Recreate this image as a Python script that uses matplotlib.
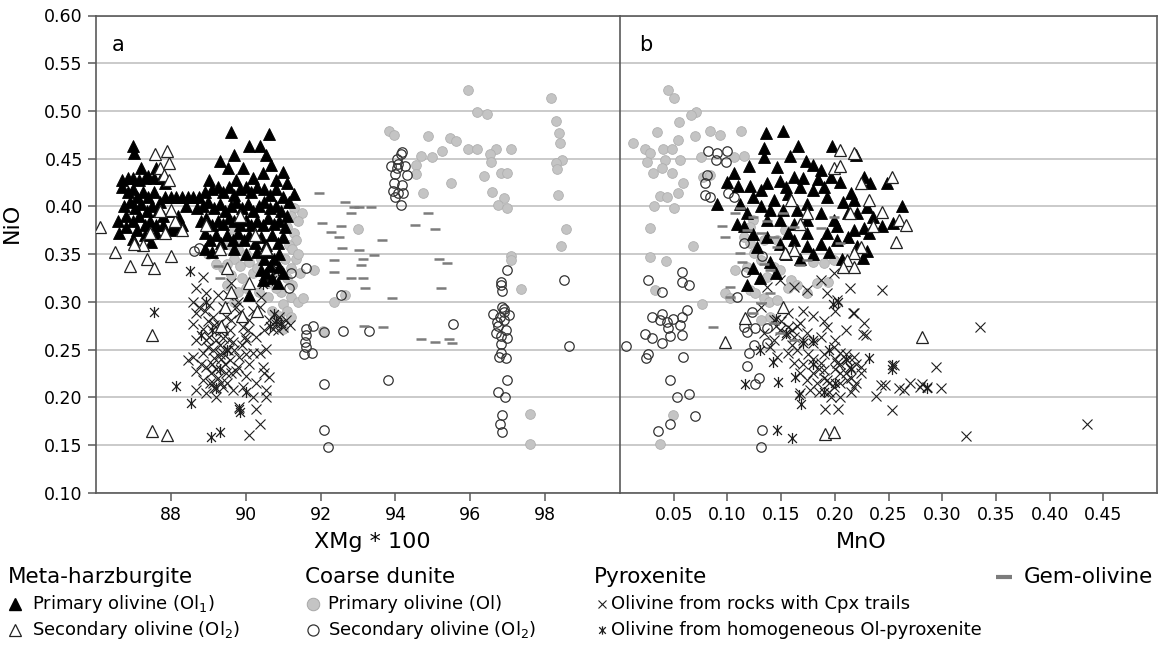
import numpy as np
import matplotlib.pyplot as plt
from matplotlib.path import Path

# ---------------- data : panel a, XMg*100 vs NiO ----------------
a_ol1 = np.array([
    (86.98, .463), (87.02, .456), (86.70, .428), (86.85, .430), (87.00, .430), (87.15, .428), (87.30, .430),
    (87.55, .430), (87.60, .440), (87.75, .430), (87.20, .440), (87.40, .432), (87.85, .425),
    (86.70, .420), (86.85, .415), (87.00, .418), (87.10, .410), (87.25, .415), (87.40, .410), (87.55, .415),
    (87.70, .405), (87.85, .410), (88.00, .410), (88.15, .410), (88.30, .410), (88.45, .410), (88.60, .410),
    (86.75, .400), (86.90, .405), (87.05, .398), (87.20, .402), (87.35, .395), (87.50, .400), (87.65, .395),
    (87.80, .390), (88.00, .395), (88.20, .390), (88.40, .400),
    (86.60, .385), (86.80, .390), (87.00, .385), (87.15, .390), (87.30, .380), (87.45, .385), (87.60, .380),
    (87.80, .380), (88.10, .378), (88.30, .380),
    (86.62, .372), (86.80, .378), (86.98, .366), (87.10, .375), (87.30, .370), (87.47, .363), (87.60, .372),
    (88.00, .375),
    (89.61, .478), (90.63, .476), (90.10, .463), (90.37, .463), (89.70, .454), (90.55, .454), (89.30, .448),
    (90.68, .443), (89.52, .440), (89.92, .440), (90.99, .436), (89.03, .428), (89.74, .428), (90.20, .430),
    (90.45, .435), (90.80, .428), (91.10, .424), (91.30, .413),
    (88.75, .410), (88.90, .415), (89.10, .418), (89.25, .420), (89.40, .415), (89.55, .420), (89.70, .412),
    (89.85, .418), (90.00, .420), (90.15, .415), (90.30, .420), (90.50, .418), (90.65, .412), (90.80, .418),
    (91.00, .410), (91.15, .405),
    (88.70, .398), (88.85, .400), (89.00, .405), (89.15, .398), (89.30, .402), (89.45, .395), (89.60, .400),
    (89.75, .405), (89.90, .398), (90.05, .402), (90.20, .395), (90.35, .400), (90.50, .405), (90.65, .398),
    (90.80, .400), (90.95, .395), (91.10, .390),
    (88.80, .385), (88.95, .388), (89.10, .380), (89.25, .385), (89.40, .382), (89.55, .388), (89.70, .385),
    (89.85, .380), (90.00, .386), (90.15, .380), (90.30, .385), (90.45, .380), (90.60, .388), (90.75, .382),
    (90.90, .385), (91.05, .378),
    (88.90, .372), (89.05, .365), (89.20, .370), (89.35, .362), (89.50, .370), (89.65, .365), (89.80, .372),
    (89.95, .365), (90.10, .370), (90.25, .362), (90.40, .368), (90.55, .360), (90.70, .370), (90.85, .362),
    (91.00, .368),
    (88.90, .355), (89.10, .352), (89.70, .355), (90.00, .350), (90.30, .352), (90.50, .345), (90.60, .352),
    (90.75, .345), (90.90, .350), (90.65, .338), (90.90, .337), (90.46, .323), (90.70, .325), (90.55, .330),
    (90.10, .307), (90.40, .333), (90.85, .320), (91.00, .330)])

a_ol2 = np.array([
    (86.12, .378), (87.58, .455), (87.90, .458), (87.70, .440), (87.82, .433), (87.95, .428), (87.95, .445),
    (86.50, .352), (86.90, .338), (87.35, .345), (87.55, .335), (87.45, .372), (87.25, .360), (88.00, .348),
    (87.50, .265), (87.50, .165), (87.90, .160), (88.30, .375), (87.70, .395), (88.10, .385), (87.85, .372),
    (88.95, .380), (89.50, .335), (89.30, .355), (90.30, .290), (89.60, .310), (89.90, .285), (90.10, .320),
    (89.35, .275), (89.45, .295), (90.55, .355), (90.25, .370), (89.85, .390), (88.00, .396), (87.02, .361)])

a_dun_ol = np.array([
    (91.30, .398), (91.50, .393), (91.20, .390), (91.40, .385), (91.10, .378), (91.30, .372), (91.35, .365),
    (91.15, .360), (91.25, .355), (91.35, .345), (91.05, .345), (91.20, .335), (91.10, .325), (91.25, .318),
    (90.95, .310), (91.20, .305), (91.00, .298), (91.10, .290), (91.20, .284), (91.40, .300), (91.45, .330),
    (91.40, .350), (89.60, .385), (89.70, .375), (89.90, .365), (89.60, .360), (89.50, .365), (89.80, .355),
    (90.00, .350), (89.70, .345), (89.50, .340), (89.85, .338), (90.10, .342), (89.40, .335), (89.60, .328),
    (89.90, .325), (90.20, .330), (90.40, .345), (90.30, .335), (89.50, .318), (89.80, .310), (90.00, .315),
    (90.35, .310), (90.60, .305), (90.60, .320), (90.80, .315), (90.90, .330), (90.70, .290), (90.90, .285),
    (91.00, .272), (89.00, .350), (89.20, .340), (89.70, .300),
    (93.83, .479), (93.97, .475), (94.87, .474), (95.45, .472), (95.63, .469), (95.93, .522), (96.17, .499),
    (96.45, .497), (94.68, .453), (94.99, .452), (95.24, .458), (95.95, .460), (96.19, .460), (96.70, .460),
    (97.10, .460), (96.52, .455), (96.56, .447), (94.55, .443), (94.55, .434), (96.36, .432), (96.82, .435),
    (96.99, .435), (95.48, .424), (94.73, .414), (96.57, .415), (96.89, .409), (96.73, .401), (96.99, .398),
    (97.09, .348), (97.09, .344), (97.36, .313), (98.16, .514), (98.29, .489), (98.37, .477), (98.39, .466),
    (98.45, .449), (98.29, .445), (98.32, .439), (98.34, .412), (98.55, .376), (98.42, .359), (93.00, .376),
    (91.82, .333), (91.53, .304), (92.35, .300), (92.66, .307), (92.06, .269), (97.60, .182), (97.60, .151)])

a_dun_ol2 = np.array([
    (94.18, .457), (94.15, .455), (94.04, .450), (93.88, .442), (94.04, .440), (94.25, .442), (94.31, .433),
    (93.99, .434), (94.08, .444), (93.97, .424), (94.18, .422), (93.94, .416), (94.08, .414), (94.20, .414),
    (94.00, .410), (94.15, .401),
    (91.60, .335), (92.54, .307), (96.99, .333), (96.82, .321), (96.82, .318), (96.86, .311), (98.50, .323),
    (96.86, .295), (96.62, .287), (96.89, .289), (97.04, .286), (96.72, .279), (96.91, .281), (96.75, .275),
    (96.96, .270), (96.70, .267), (96.82, .264), (96.99, .262), (96.82, .256), (96.82, .246), (96.78, .242),
    (96.96, .241), (96.98, .218), (96.75, .205), (96.93, .2005), (96.86, .181), (96.80, .1725), (96.86, .164),
    (96.89, .293), (96.80, .284),
    (91.60, .272), (91.79, .275), (91.60, .265), (91.58, .258), (91.60, .253), (91.55, .245), (91.76, .246),
    (92.08, .268), (92.61, .2697), (93.30, .2693), (93.81, .218), (92.08, .2138), (92.08, .1655), (92.19, .148),
    (95.53, .2766), (98.63, .254), (88.61, .353), (88.74, .356), (91.20, .330), (91.15, .315)])

a_px_cpx = np.array([
    (88.85, .326), (88.67, .314), (88.94, .309), (89.25, .307), (89.52, .307), (88.58, .300), (89.03, .297),
    (89.39, .295), (89.74, .295), (88.67, .288), (89.12, .284), (89.48, .284), (89.83, .288), (90.10, .281),
    (90.37, .295), (88.58, .277), (88.85, .272), (89.16, .276), (89.30, .269), (89.57, .270), (89.92, .274),
    (88.67, .260), (89.03, .263), (89.39, .262), (89.65, .258), (90.01, .260), (90.28, .263), (90.55, .251),
    (88.58, .242), (88.85, .246), (89.12, .249), (89.39, .246), (89.57, .239), (89.83, .242), (90.10, .235),
    (90.37, .246), (88.67, .228), (88.94, .232), (89.21, .230), (89.48, .225), (89.74, .227), (90.01, .222),
    (90.28, .2145), (88.85, .218), (89.12, .2145), (89.39, .211), (89.65, .2075), (89.92, .211), (88.67, .2075),
    (88.94, .204), (89.21, .2005), (90.19, .2005), (90.55, .2075), (90.55, .2005), (89.83, .190), (90.28, .188),
    (90.37, .1725), (90.10, .160), (88.45, .239), (89.07, .225), (89.34, .240), (89.52, .249), (89.79, .232),
    (89.16, .2415), (88.99, .253), (89.25, .277), (89.61, .281), (89.97, .263), (90.19, .246), (90.46, .232),
    (90.63, .2215), (90.50, .225), (90.63, .281), (90.81, .277), (90.99, .274), (91.17, .276), (90.72, .272),
    (90.90, .284), (91.08, .281), (90.86, .270), (89.20, .260), (89.30, .255), (89.40, .270), (89.10, .235),
    (89.25, .220), (89.35, .215), (89.45, .235), (89.55, .260), (89.15, .210), (89.05, .215), (89.50, .215),
    (89.30, .245), (88.95, .260), (88.80, .235), (89.60, .225), (89.70, .250), (89.90, .255), (90.00, .245),
    (90.05, .270), (89.00, .280), (88.75, .295), (88.90, .290), (89.80, .300), (90.20, .290), (90.40, .305),
    (89.60, .320), (90.50, .270)])

a_px_hom = np.array([
    (87.56, .289), (88.14, .212), (88.54, .1935), (89.83, .188), (89.07, .1586), (89.32, .164), (88.50, .332),
    (89.85, .185), (88.80, .265), (89.10, .270), (89.30, .230), (90.45, .319), (90.70, .323), (90.80, .280),
    (90.65, .275), (90.95, .278), (90.75, .287), (89.50, .250), (89.20, .210), (88.95, .300), (90.00, .205),
    (90.85, .333)])

a_gem = np.array([
    (91.97, .414), (92.03, .383), (92.27, .373), (92.54, .379), (92.66, .405), (92.82, .393), (92.88, .399),
    (93.04, .399), (93.35, .399), (92.50, .368), (93.64, .365), (92.58, .356), (93.04, .354), (92.35, .344),
    (93.14, .345), (93.43, .349), (93.09, .339), (92.35, .331), (92.82, .325), (93.14, .325), (93.19, .315),
    (93.90, .304), (94.86, .393), (94.52, .380), (95.05, .376), (95.16, .345), (95.37, .341), (95.21, .315),
    (89.27, .338), (89.32, .325), (93.17, .2745), (93.67, .2732), (94.68, .2606), (95.05, .2574),
    (95.42, .2606), (95.50, .2564)])

# ---------------- data : panel b, MnO vs NiO ----------------
b_ol1 = np.array([
    (.136, .477), (.152, .479), (.134, .461), (.166, .463), (.158, .453), (.173, .448), (.197, .463),
    (.220, .454), (.180, .443), (.187, .438), (.134, .452), (.120, .442), (.106, .435), (.100, .426),
    (.090, .403), (.110, .421), (.227, .431), (.233, .424), (.249, .425), (.263, .400), (.254, .383),
    (.244, .379), (.230, .353), (.226, .346), (.227, .377), (.205, .426), (.196, .431), (.184, .429),
    (.215, .414), (.218, .407), (.221, .393), (.230, .399), (.236, .389), (.232, .372), (.218, .375),
    (.202, .365), (.187, .361), (.174, .358), (.162, .365), (.149, .361), (.137, .368), (.124, .371),
    (.115, .379), (.109, .382), (.118, .393), (.131, .400), (.143, .407), (.156, .413), (.168, .420),
    (.180, .417), (.193, .410), (.187, .393), (.174, .386), (.162, .382), (.149, .386), (.137, .386),
    (.124, .410), (.137, .424), (.149, .427), (.162, .431), (.146, .441), (.121, .421), (.112, .403),
    (.131, .417), (.174, .403), (.199, .386), (.212, .393), (.202, .379), (.165, .396), (.152, .396),
    (.140, .396), (.128, .357), (.140, .342), (.124, .335), (.156, .372), (.174, .372), (.193, .372),
    (.212, .368), (.221, .358), (.155, .350), (.168, .345), (.180, .350), (.195, .352), (.207, .345),
    (.130, .325), (.145, .330), (.118, .318), (.208, .405), (.190, .420), (.170, .430), (.155, .420)])

b_ol2 = np.array([
    (.205, .459), (.218, .456), (.199, .440), (.205, .442), (.2535, .431), (.224, .424), (.232, .407),
    (.244, .394), (.260, .386), (.266, .380), (.257, .363), (.236, .379), (.2146, .3926), (.224, .3577),
    (.218, .351), (.2115, .344), (.218, .337), (.208, .337), (.162, .354), (.154, .351), (.152, .295),
    (.1166, .2826), (.098, .258), (.2815, .2627), (.191, .162), (.199, .164), (.174, .3926), (.168, .382),
    (.159, .4067)])

b_dun_ol = np.array([
    (.045, .522), (.0507, .514), (.0709, .499), (.066, .496), (.0554, .488), (.0342, .478), (.0544, .4695),
    (.070, .474), (.084, .479), (.0933, .475), (.113, .479), (.0118, .466), (.0233, .460), (.028, .456),
    (.0404, .460), (.048, .460), (.056, .449), (.042, .449), (.025, .447), (.031, .435), (.039, .440),
    (.048, .435), (.059, .424), (.0544, .4143), (.0373, .411), (.0435, .4094), (.032, .4003), (.0507, .398),
    (.0756, .4513), (.077, .431), (.084, .433), (.115, .4527), (.106, .452), (.028, .377), (.0684, .3588),
    (.028, .347), (.0426, .343), (.0327, .312), (.0496, .181), (.0369, .1508),
    (.0762, .2976), (.098, .309), (.1026, .3036), (.121, .312), (.126, .3088), (.134, .3036), (.1384, .3001),
    (.146, .3018), (.107, .3333), (.118, .3367), (.1244, .3507), (.131, .3437), (.1213, .3612), (.134, .3647),
    (.143, .3367), (.149, .3332), (.159, .3228), (.165, .3175), (.174, .3088), (.1835, .3193), (.190, .3402),
    (.180, .3419), (.199, .3437), (.194, .321), (.156, .3141), (.140, .2843), (.131, .2808), (.124, .3856),
    (.1213, .3786), (.115, .3682), (.137, .3263), (.146, .3647), (.154, .3752)])

b_dun_ol2 = np.array([
    (.0815, .458), (.090, .4555), (.0995, .458), (.0893, .4485), (.0989, .4468), (.0809, .4328), (.0793, .4248),
    (.0787, .412), (.084, .410), (.101, .4136), (.1058, .410), (.115, .3612), (.132, .348), (.1176, .3315),
    (.0264, .3228), (.0575, .3315), (.0575, .321), (.0638, .3175), (.0389, .3105), (.1089, .3053), (.1229, .2896),
    (.0295, .2843), (.0389, .287), (.0373, .2808), (.0435, .279), (.0498, .2816), (.0575, .2843), (.0622, .2913),
    (.056, .2756), (.045, .2721), (.0233, .2668), (.0295, .2616), (.0389, .2564), (.0575, .2651), (.0467, .2641),
    (.0056, .2539), (.0264, .2452), (.0243, .2407), (.0591, .2424), (.1182, .2686), (.126, .2721), (.1369, .2721),
    (.1151, .2738), (.1244, .2546), (.1198, .246), (.1182, .2326), (.129, .2197), (.126, .2144), (.1369, .2564),
    (.0467, .2179), (.0638, .2039), (.0529, .2005), (.070, .1802), (.0467, .1725), (.0358, .1648), (.1322, .1662),
    (.1316, .148)])

b_px_cpx = np.array([
    (.143, .281), (.149, .2704), (.156, .274), (.162, .2634), (.168, .2774), (.174, .267), (.180, .2564),
    (.187, .2634), (.193, .274), (.199, .253), (.205, .246), (.2115, .239), (.218, .2425), (.224, .232),
    (.187, .2354), (.180, .225), (.174, .218), (.168, .225), (.162, .2354), (.156, .246), (.146, .2425),
    (.140, .253), (.193, .218), (.199, .211), (.205, .225), (.2115, .218), (.218, .211), (.224, .225),
    (.2146, .232), (.202, .2354), (.190, .2284), (.1835, .2145), (.177, .2075), (.196, .2005), (.205, .2005),
    (.168, .204), (.137, .316), (.149, .3228), (.162, .316), (.174, .3123), (.156, .2878), (.131, .295),
    (.134, .267), (.143, .260), (.187, .3228), (.193, .3088), (.202, .3018), (.247, .2127), (.264, .2075),
    (.270, .2145), (.286, .211), (.255, .2337), (.199, .3298), (.2146, .314), (.244, .312), (.218, .2878),
    (.227, .2773), (.2286, .2651), (.3352, .2732), (.435, .1718), (.3225, .1593), (.2536, .1865),
    (.2385, .2011), (.2939, .2312), (.299, .2092), (.281, .214), (.279, .2105), (.2595, .2095), (.243, .2125),
    (.2267, .2662), (.2166, .2885), (.1908, .1882), (.2032, .1882),
    (.190, .220), (.200, .230), (.210, .225), (.205, .215), (.195, .205), (.215, .205), (.200, .240),
    (.185, .230), (.210, .245), (.220, .235), (.220, .215), (.195, .215), (.205, .235), (.185, .205),
    (.215, .220), (.155, .265), (.160, .270), (.150, .280), (.165, .275), (.145, .275), (.170, .260),
    (.160, .255), (.175, .245), (.165, .250), (.180, .240), (.170, .235), (.190, .245), (.200, .260),
    (.210, .270), (.190, .280), (.180, .285), (.200, .290), (.170, .290)])

b_px_hom = np.array([
    (.146, .1655), (.1606, .1568), (.116, .2134), (.1467, .2162), (.1427, .2372), (.167, .2022), (.1686, .1925),
    (.2317, .2414), (.2536, .2337), (.2855, .2092), (.198, .298), (.163, .2212), (.180, .235), (.195, .250),
    (.155, .267), (.145, .282), (.170, .257), (.210, .240), (.203, .300), (.180, .260), (.200, .215),
    (.215, .230), (.190, .205), (.253, .230), (.130, .250)])

b_gem = np.array([
    (.095, .379), (.098, .368), (.112, .398), (.107, .393), (.124, .389), (.137, .385), (.118, .375),
    (.131, .372), (.143, .368), (.112, .3507), (.1135, .342), (.134, .340), (.140, .333), (.1026, .3158),
    (.087, .2738), (.174, .3437), (.168, .339), (.1026, .305), (.124, .2878), (.131, .2983), (.140, .3088),
    (.143, .2773), (.149, .2669), (.162, .2599), (.205, .3612), (.199, .3891), (.187, .377), (.152, .3926),
    (.162, .3786), (.146, .3577)])

yticks = [0.10, 0.15, 0.20, 0.25, 0.30, 0.35, 0.40, 0.45, 0.50, 0.55, 0.60]
a_ticks = [88, 90, 92, 94, 96, 98]
b_ticks = [0.05, 0.10, 0.15, 0.20, 0.25, 0.30, 0.35, 0.40, 0.45]

# ---------------- styles ----------------
# Excel-like asterisk: an x with a vertical bar through it
star = Path([(-1, -1), (1, 1), (-1, 1), (1, -1), (0, -1.25), (0, 1.25)],
            [Path.MOVETO, Path.LINETO, Path.MOVETO, Path.LINETO, Path.MOVETO, Path.LINETO])

axcol = '#5a5a5a'
st_ol1 = dict(ls='none', marker='^', ms=8, mfc='black', mec='black', mew=0.6)
st_ol2 = dict(ls='none', marker='^', ms=8, mfc='white', mec='#222222', mew=0.9)
st_dol = dict(ls='none', marker='o', ms=7, mfc='#c4c4c4', mec='#b0b0b0', mew=0.6)
st_dol2 = dict(ls='none', marker='o', ms=6.8, mfc='none', mec='#333333', mew=0.9)
st_cpx = dict(ls='none', marker='x', ms=7.5, mec='#1e1e1e', mew=0.8)
st_hom = dict(ls='none', marker=star, ms=8, mec='#1e1e1e', mew=0.9)
st_gem = dict(ls='none', marker='_', ms=7, mec='#7c7c7c', mew=1.8)

plt.rcParams['font.family'] = 'DejaVu Sans'

W, H = 1162, 649
fig = plt.figure(figsize=(W / 100, H / 100), dpi=100)
ax_a = fig.add_axes([96 / W, 1 - 492.7 / H, 524 / W, 477.2 / H])
ax_b = fig.add_axes([620 / W, 1 - 492.7 / H, 537 / W, 477.2 / H])

for ax, d in ((ax_a, dict(ol1=a_ol1, ol2=a_ol2, dol=a_dun_ol, dol2=a_dun_ol2, cpx=a_px_cpx, hom=a_px_hom, gem=a_gem)),
              (ax_b, dict(ol1=b_ol1, ol2=b_ol2, dol=b_dun_ol, dol2=b_dun_ol2, cpx=b_px_cpx, hom=b_px_hom, gem=b_gem))):
    ax.plot(d['dol'][:, 0], d['dol'][:, 1], zorder=3, **st_dol)
    ax.plot(d['dol2'][:, 0], d['dol2'][:, 1], zorder=4, **st_dol2)
    ax.plot(d['cpx'][:, 0], d['cpx'][:, 1], zorder=5, **st_cpx)
    ax.plot(d['hom'][:, 0], d['hom'][:, 1], zorder=5, **st_hom)
    ax.plot(d['ol1'][:, 0], d['ol1'][:, 1], zorder=6, **st_ol1)
    ax.plot(d['ol2'][:, 0], d['ol2'][:, 1], zorder=7, **st_ol2)
    ax.plot(d['gem'][:, 0], d['gem'][:, 1], zorder=8, **st_gem)

    ax.set_ylim(0.10, 0.60)
    ax.set_yticks(yticks)
    ax.grid(axis='y', color='#c6c6c6', lw=1.3)
    ax.set_axisbelow(True)
    for s in ax.spines.values():
        s.set_color(axcol)
        s.set_linewidth(1.2)
    ax.tick_params(axis='both', direction='out', colors=axcol, labelcolor='black',
                   labelsize=12.5, length=6, width=1.1)

ax_a.set_xlim(86, 100)
ax_a.set_xticks(a_ticks)
ax_a.spines['right'].set_visible(False)
ax_a.set_yticklabels(['%.2f' % v for v in yticks])
ax_a.set_ylabel('NiO', fontsize=16)
ax_a.yaxis.set_label_coords(-0.141, 0.565)
ax_a.set_xlabel('XMg * 100', fontsize=16)
ax_a.xaxis.set_label_coords(0.527, -0.082)
ax_a.text(0.03, 0.96, 'a', transform=ax_a.transAxes, fontsize=15, va='top')

ax_b.set_xlim(0, 0.5)
ax_b.set_xticks(b_ticks)
ax_b.set_xticklabels(['%.2f' % v for v in b_ticks])
ax_b.tick_params(axis='y', left=False, labelleft=False)
ax_b.set_xlabel('MnO', fontsize=16)
ax_b.xaxis.set_label_coords(0.45, -0.082)
ax_b.text(0.035, 0.96, 'b', transform=ax_b.transAxes, fontsize=15, va='top')

# ---------------- legend (pixel layout) ----------------
lg = fig.add_axes([0, 0, 1, 1])
lg.set_xlim(0, W)
lg.set_ylim(H, 0)
lg.axis('off')
r1, r2, r3 = 577, 604, 630
hfs, ifs = 15.5, 13
lg.text(8, r1, 'Meta-harzburgite', fontsize=hfs, va='center')
lg.plot([15], [r2], ls='none', marker='^', ms=9, mfc='black', mec='black')
lg.text(32, r2, r'Primary olivine (Ol$_1$)', fontsize=ifs, va='center')
lg.plot([15], [r3], ls='none', marker='^', ms=9, mfc='white', mec='#222222', mew=0.9)
lg.text(32, r3, r'Secondary olivine (Ol$_2$)', fontsize=ifs, va='center')

lg.text(305, r1, 'Coarse dunite', fontsize=hfs, va='center')
lg.plot([313], [r2], ls='none', marker='o', ms=9, mfc='#c4c4c4', mec='#a8a8a8', mew=0.7)
lg.text(328, r2, 'Primary olivine (Ol)', fontsize=ifs, va='center')
lg.plot([313], [r3], ls='none', marker='o', ms=8, mfc='white', mec='#333333', mew=0.9)
lg.text(328, r3, r'Secondary olivine (Ol$_2$)', fontsize=ifs, va='center')

lg.text(594, r1, 'Pyroxenite', fontsize=hfs, va='center')
lg.plot([602], [r2], ls='none', marker='x', ms=5.5, mec='#1e1e1e', mew=0.8)
lg.text(611, r2, 'Olivine from rocks with Cpx trails', fontsize=ifs, va='center')
lg.plot([602], [r3], ls='none', marker=star, ms=6, mec='#1e1e1e', mew=0.9)
lg.text(611, r3, 'Olivine from homogeneous Ol-pyroxenite', fontsize=ifs, va='center')

lg.plot([1004], [r1], ls='none', marker='_', ms=12, mec='#7c7c7c', mew=3)
lg.text(1024, r1, 'Gem-olivine', fontsize=hfs, va='center')

fig.savefig('out.png', dpi=100)
